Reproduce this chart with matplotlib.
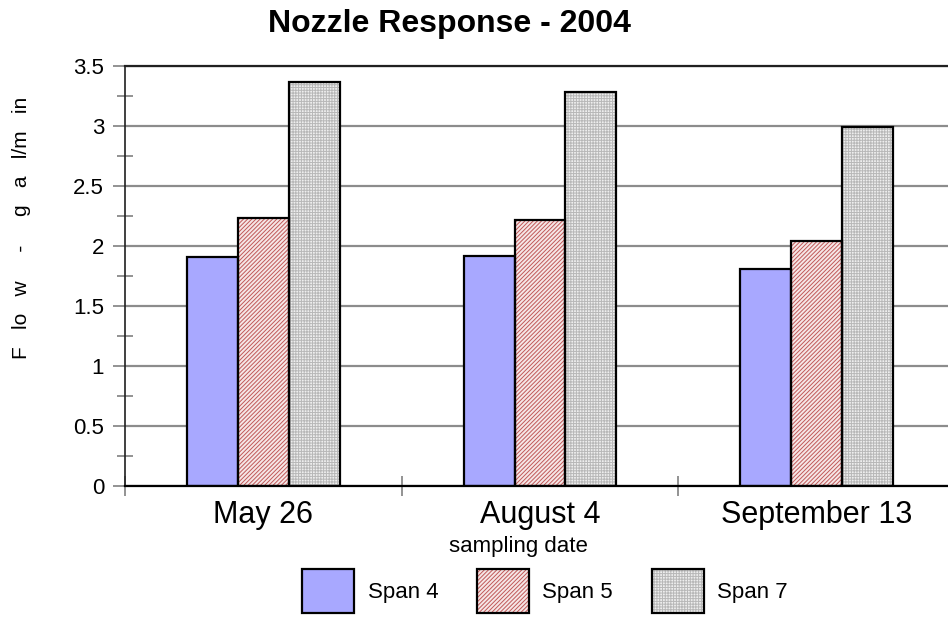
import numpy as np
import matplotlib
matplotlib.use('Agg')
import matplotlib.pyplot as plt
from matplotlib.legend_handler import HandlerTuple
from matplotlib.ticker import MultipleLocator, FixedLocator, NullFormatter

# data
dates = ['May 26', 'August 4', 'September 13']
series = ['Span 4', 'Span 5', 'Span 7']
span4 = [1.91, 1.92, 1.81]
span5 = [2.23, 2.22, 2.04]
span7 = [3.37, 3.28, 2.99]

plt.rcParams['font.family'] = ['Liberation Sans', 'DejaVu Sans']
plt.rcParams['hatch.linewidth'] = 0.7

fills = [
    dict(facecolor='#a8a8ff', hatch=None, hcolor='#a8a8ff'),
    dict(facecolor='#f6e6e6', hatch='////////', hcolor='#c05858'),
    dict(facecolor='#eeeeee', hatch='++++++', hcolor='#b8b8b8'),
]

fig = plt.figure(figsize=(9.48, 6.19), dpi=100)
ax = fig.add_axes([125 / 948, 1 - 486 / 619, 830 / 948, 420 / 619])

x = np.arange(len(dates)) + 0.5
width = 0.184
handles = []
for i, (vals, st) in enumerate(zip([span4, span5, span7], fills)):
    pos = x + (i - 1) * width
    b1 = ax.bar(pos, vals, width, facecolor=st['facecolor'], hatch=st['hatch'],
                edgecolor=st['hcolor'], linewidth=0, zorder=2)
    b2 = ax.bar(pos, vals, width, facecolor='none', edgecolor='black',
                linewidth=1.6, zorder=3)
    handles.append((b1[0], b2[0]))

ax.set_xlim(0, 3)
ax.set_ylim(0, 3.5)

# y axis
ax.yaxis.set_major_locator(MultipleLocator(0.5))
ax.yaxis.set_minor_locator(MultipleLocator(0.25))
ax.yaxis.set_major_formatter(plt.FuncFormatter(lambda v, p: '%g' % v))
ax.tick_params(axis='y', which='major', length=9, width=1.2, color='#808080',
               labelsize=16, pad=6)
ax.tick_params(axis='y', which='minor', direction='inout', length=11, width=1.2,
               color='#808080')
ax.grid(axis='y', which='major', color='#8c8c8c', linewidth=1.6, zorder=1)
ax.set_axisbelow(True)

# x axis: ticks between groups, labels centered on groups
ax.xaxis.set_major_locator(FixedLocator([0, 1, 2, 3]))
ax.xaxis.set_major_formatter(NullFormatter())
ax.xaxis.set_minor_locator(FixedLocator(x))
ax.set_xticklabels(dates, minor=True)
ax.tick_params(axis='x', which='major', direction='inout', length=15, width=1.2,
               color='#808080')
ax.tick_params(axis='x', which='minor', length=0, labelsize=22, pad=10)

ax.spines['right'].set_visible(False)
ax.spines['top'].set_color('#202020')
ax.spines['top'].set_linewidth(1.6)
ax.spines['left'].set_color('#202020')
ax.spines['left'].set_linewidth(1.2)
ax.spines['bottom'].set_color('black')
ax.spines['bottom'].set_linewidth(1.6)

fig.text(22 / 948, 1 - 228 / 619, 'F   lo   w     -     g   a   l/m   in', rotation=90,
         ha='center', va='center', fontsize=15)
fig.text(449 / 948, 1 - 32 / 619, 'Nozzle Response - 2004', ha='center', va='baseline',
         fontsize=23, fontweight='bold')
fig.text(518 / 948, 1 - 552 / 619, 'sampling date', ha='center', va='baseline',
         fontsize=16)

fig.legend(handles, series, loc='center', bbox_to_anchor=(545 / 948, 1 - 591 / 619),
           ncol=3, frameon=False, fontsize=16, handlelength=2.34, handleheight=2.63,
           handletextpad=0.6, columnspacing=1.75, borderpad=0,
           handler_map={tuple: HandlerTuple(ndivide=1)})

fig.savefig('out.png', dpi=100)
